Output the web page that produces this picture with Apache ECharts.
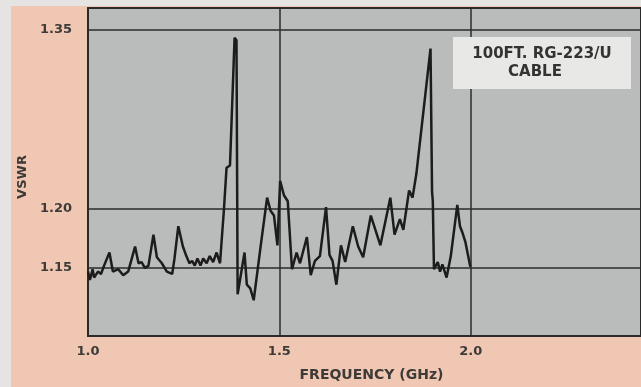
<!DOCTYPE html>
<html>
<head>
<meta charset="utf-8">
<script src="https://cdn.jsdelivr.net/npm/echarts@6/dist/echarts.min.js"></script>
<style>
html,body{margin:0;padding:0;background:#efc7b3;}
#chart{width:641px;height:387px;}
</style>
</head>
<body>
<div id="chart"></div>
<script>
// Frequency (GHz) of each traced point
var freq = [1.000,1.005,1.012,1.016,1.026,1.034,1.042,1.056,1.065,1.079,1.092,1.105,1.123,1.132,1.140,1.149,1.158,1.171,1.180,1.193,1.206,1.220,1.226,1.236,1.248,1.257,1.265,1.272,1.279,1.286,1.294,1.301,1.310,1.318,1.327,1.336,1.345,1.349,1.355,1.362,1.371,1.383,1.388,1.391,1.409,1.415,1.424,1.433,1.451,1.468,1.477,1.486,1.495,1.502,1.512,1.522,1.533,1.545,1.554,1.572,1.582,1.593,1.606,1.622,1.631,1.639,1.649,1.661,1.672,1.692,1.706,1.719,1.739,1.747,1.764,1.790,1.801,1.815,1.824,1.839,1.848,1.858,1.895,1.899,1.901,1.904,1.914,1.920,1.926,1.937,1.948,1.965,1.972,1.978,1.986,1.999];
// VSWR readings
var vswr = [1.147,1.140,1.149,1.142,1.147,1.145,1.152,1.163,1.147,1.149,1.144,1.147,1.168,1.154,1.155,1.150,1.152,1.178,1.159,1.154,1.147,1.145,1.158,1.185,1.168,1.160,1.154,1.156,1.152,1.158,1.152,1.158,1.154,1.160,1.155,1.163,1.154,1.172,1.198,1.234,1.236,1.343,1.341,1.128,1.163,1.136,1.133,1.123,1.168,1.209,1.198,1.194,1.169,1.223,1.211,1.206,1.149,1.163,1.154,1.176,1.144,1.156,1.160,1.201,1.161,1.156,1.136,1.169,1.155,1.185,1.168,1.159,1.194,1.186,1.169,1.209,1.178,1.191,1.182,1.215,1.209,1.229,1.334,1.214,1.206,1.149,1.155,1.147,1.153,1.142,1.160,1.203,1.185,1.180,1.172,1.151];
// Axis tick labels
var yTicks = [1.15, 1.20, 1.35];
var xTicks = [1.0, 1.5, 2.0];
var legendLines = ["100FT. RG-223/U", "CABLE"];

var pts = freq.map(function (f, i) { return [f, vswr[i]]; });
var ink = '#2b2b2b';
var txt = '#3d3a38';
var fontFam = '"DejaVu Sans", sans-serif';

var chart = echarts.init(document.getElementById('chart'), null, {renderer: 'canvas'});
chart.setOption({
  backgroundColor: '#efc7b3',
  animation: false,
  grid: {
    left: 88, top: 8, right: -2, bottom: 49,
    show: true,
    backgroundColor: '#b9bcbb',
    borderColor: ink,
    borderWidth: 2
  },
  xAxis: {
    type: 'value',
    min: 1.0, max: 2.445, interval: 0.5,
    name: 'FREQUENCY (GHz)',
    nameLocation: 'middle',
    nameGap: 32,
    nameTextStyle: {color: txt, fontSize: 14, fontWeight: 'bold', fontFamily: fontFam, padding: [0, 0, 0, 14]},
    axisLine: {show: false},
    axisTick: {show: false},
    axisLabel: {
      color: txt, fontSize: 13, fontWeight: 'bold', fontFamily: fontFam, margin: 9,
      showMaxLabel: false,
      formatter: function (v) { return Math.abs(v * 2 - Math.round(v * 2)) < 1e-6 && xTicks.indexOf(Math.round(v * 10) / 10) >= 0 ? v.toFixed(1) : ''; }
    },
    splitLine: {show: true, lineStyle: {color: ink, width: 1.5}}
  },
  yAxis: {
    type: 'value',
    min: 1.093, max: 1.368,
    name: 'VSWR',
    nameLocation: 'middle',
    nameGap: 58,
    nameTextStyle: {color: txt, fontSize: 13, fontWeight: 'bold', fontFamily: fontFam, padding: [0, 10, 0, 0]},
    axisLine: {show: false},
    axisTick: {show: false},
    splitLine: {show: false},
    axisLabel: {
      customValues: yTicks,
      color: txt, fontSize: 13, fontWeight: 'bold', fontFamily: fontFam, margin: 16,
      formatter: function (v) { return v.toFixed(2); }
    }
  },
  graphic: [
    {type: 'rect', shape: {x: 0, y: 0, width: 641, height: 6}, style: {fill: '#e5e4e2'}, silent: true},
    {type: 'rect', shape: {x: 0, y: 0, width: 11, height: 387}, style: {fill: '#e5e4e2'}, silent: true},
    {type: 'rect', z: 50, shape: {x: 453, y: 37, width: 178, height: 52}, style: {fill: '#e8e8e6'}, silent: true},
    {type: 'text', z: 51, x: 542, y: 54, style: {text: legendLines[0], fill: '#333', font: 'bold 15px ' + fontFam, align: 'center', verticalAlign: 'middle'}, silent: true},
    {type: 'text', z: 51, x: 535, y: 72, style: {text: legendLines[1], fill: '#333', font: 'bold 15px ' + fontFam, align: 'center', verticalAlign: 'middle'}, silent: true}
  ],
  series: [{
    type: 'line',
    data: pts,
    showSymbol: false,
    symbol: 'none',
    lineStyle: {color: '#1c1c1c', width: 2.5},
    z: 5,
    markLine: {
      silent: true,
      symbol: 'none',
      label: {show: false},
      lineStyle: {color: ink, width: 1.5, type: 'solid'},
      data: yTicks.map(function (t) { return {yAxis: t}; })
    }
  }]
});
</script>
</body>
</html>
